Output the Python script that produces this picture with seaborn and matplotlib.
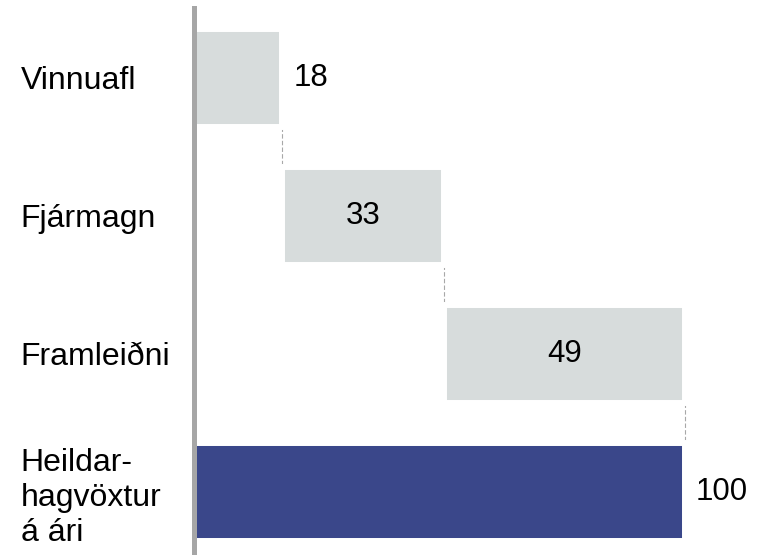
import matplotlib
matplotlib.use("Agg")
import matplotlib.pyplot as plt
import seaborn as sns
import pandas as pd

labels = ["Vinnuafl", "Fjármagn", "Framleiðni", "Heildar-\nhagvöxtur\ná ári"]
values = [18, 33, 49, 100]
is_total = [False, False, False, True]

step_color = "#d7dcdc"
total_color = "#3a478a"

# start of each step bar: running sum, totals start at zero
starts = []
run = 0
for v, t in zip(values, is_total):
    if t:
        starts.append(0)
    else:
        starts.append(run)
        run += v

df = pd.DataFrame({"label": labels, "value": values, "start": starts})
colors = {lab: (total_color if t else step_color) for lab, t in zip(labels, is_total)}

sns.set_style("white")
plt.rcParams["font.family"] = ["Liberation Sans", "DejaVu Sans"]

fig = plt.figure(figsize=(7.66, 5.55), dpi=100)
ax = fig.add_axes([193.7 / 766, 0, 1 - 193.7 / 766, 547 / 555])

sns.barplot(data=df, x="value", y="label", hue="label", hue_order=labels,
            palette=colors, saturation=1, orient="h", width=0.71, legend=False,
            edgecolor="white", linewidth=4.3, ax=ax)

# shift each bar so it starts where the previous one ended
for cont, s in zip(ax.containers, starts):
    for p in cont.patches:
        p.set_x(s)

# dashed connectors between consecutive bars
half = 0.355
for i in range(len(values) - 1):
    xend = starts[i] + values[i]
    ax.plot([xend, xend], [i + half, i + 1 - half], color="#a8a8a8",
            lw=0.8, ls=(0, (4, 2)), zorder=0.5)

# value labels
for i, (v, s, t) in enumerate(zip(values, starts, is_total)):
    if not t and v > 25:
        ax.text(s + v / 2, i, f"{v}", ha="center", va="center", fontsize=22.5, color="black")
    else:
        ax.text(s + v + 2.3, i, f"{v}", ha="left", va="center", fontsize=22.5, color="black")

ax.set_xlim(0, 116.6)
ax.set_ylim(3.457, -0.507)
ax.set_xlabel("")
ax.set_ylabel("")
ax.set_xticks([])

for side in ["top", "right", "bottom"]:
    ax.spines[side].set_visible(False)
ax.spines["left"].set_color("#a6a6a6")
ax.spines["left"].set_linewidth(3.6)

ax.tick_params(axis="y", length=0, pad=124.6, labelsize=23, labelcolor="black")
for lab in ax.get_yticklabels():
    lab.set_ha("left")
    lab.set_linespacing(1.22)

fig.savefig("out.png", dpi=100)
